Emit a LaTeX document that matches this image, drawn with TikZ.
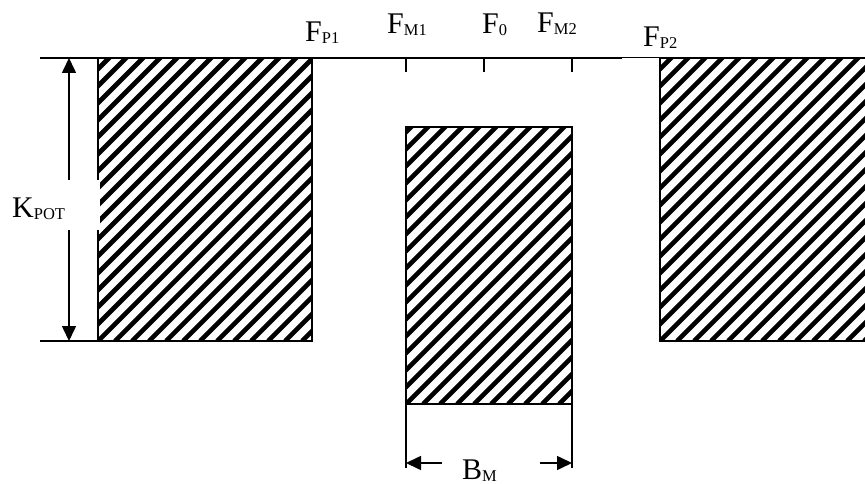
\documentclass[tikz,border=0pt]{standalone}
\usepackage{fontspec}
\setmainfont{Liberation Serif}
\usetikzlibrary{arrows.meta}

\newcommand{\flab}[2]{#1\raisebox{-2pt}{\fontsize{16.5}{16.5}\selectfont #2}}
% hatched box: left, top, right, bottom (pixel coordinates)
\newcommand{\hatchbox}[4]{%
    \begin{scope}
        \clip (#1,#2) rectangle (#3,#4);
        \foreach \s in {-306,-289,...,230}
            \draw[hatchline] (#1+\s,#4) -- ++(300,-300);
    \end{scope}
    \draw[line width=1.6pt] (#1,#2) rectangle (#3,#4);}

\begin{document}
\begin{tikzpicture}[x=1pt,y=-1pt,
    hatchline/.style={line width=4.6pt},
    lab/.style={font=\fontsize{30}{30}\selectfont,inner sep=0pt,anchor=base west},
    dim/.style={line width=1.6pt,-{Triangle[length=15pt,width=14pt]}}]
    \useasboundingbox (0,0) rectangle (865,484);
    \clip (0,0) rectangle (865,484);

    % Hatched blocks
    \hatchbox{98}{58}{312}{341}
    \hatchbox{406}{127}{572}{404}
    \hatchbox{660}{58}{872}{341}

    % Top and bottom lines
    \draw[line width=1.6pt] (40,58) -- (622,58);
    \draw[line width=1pt] (622,58) -- (712,58);
    \draw[line width=1.6pt] (40,341) -- (312,341);

    % Ticks
    \foreach \x/\n in {406/m1,484/zero,572/m2} {
        \coordinate (t\n) at (\x,58);
        \draw[line width=1.6pt] (t\n) -- ++(0,14);
    }

    % Labels on top
    \node[lab] (fp1) at (305,42) {\flab{F}{P1}};
    \node[lab] (fm1) at (387,34) {\flab{F}{M1}};
    \node[lab] (f0) at (482,34) {\flab{F}{0}};
    \node[lab] (fm2) at (537,33) {\flab{F}{M2}};
    \node[lab] (fp2) at (643,47) {\flab{F}{P2}};

    % Height arrow
    \coordinate (ktop) at (69,58);
    \coordinate (kbot) at (69,341);
    \coordinate (kmid) at (69,205);
    \draw[dim] (kmid) -- (ktop);
    \draw[dim] (kmid) -- (kbot);
    \fill[white] (0,180) rectangle (99.5,230);
    \node[lab] (kpot) at (12,217) {\flab{K}{POT}};

    % Width arrows
    \coordinate (bl) at (406,404);
    \coordinate (br) at (572,404);
    \draw[line width=1.6pt] (bl) -- ++(0,64);
    \draw[line width=1.6pt] (br) -- ++(0,64);
    \coordinate (al) at (442,463);
    \coordinate (ar) at (540,463);
    \draw[dim] (al) -- (al -| bl);
    \draw[dim] (ar) -- (ar -| br);
    \node[lab] (bm) at (462,479) {\flab{B}{M}};
\end{tikzpicture}
\end{document}
